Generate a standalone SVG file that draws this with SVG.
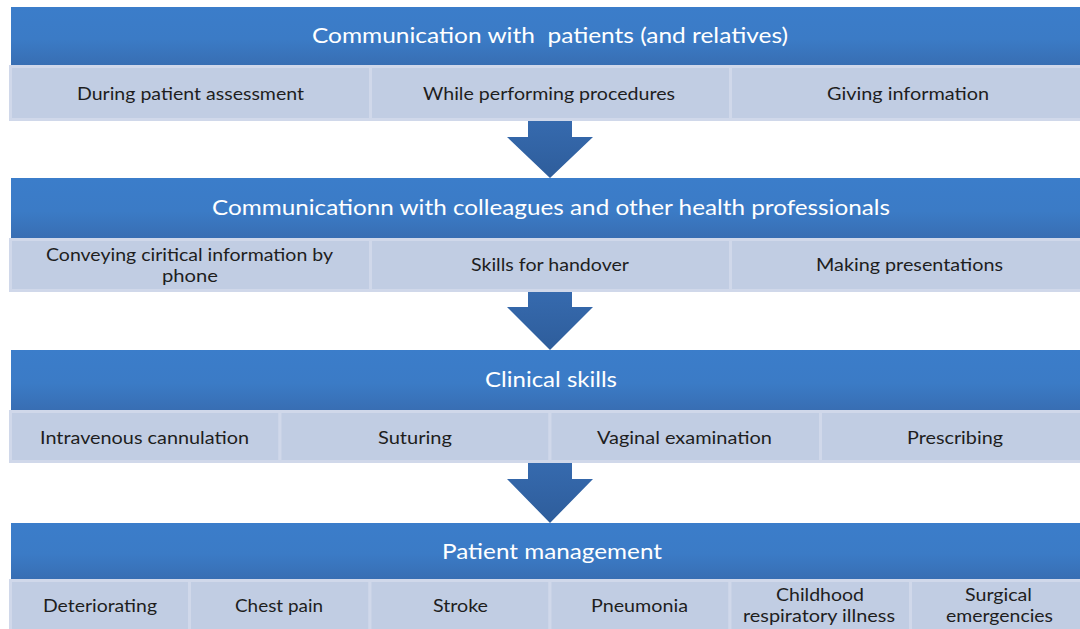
<svg xmlns="http://www.w3.org/2000/svg" width="1080" height="629" viewBox="0 0 1080 629">
  <defs>
    <linearGradient id="hdrGrad" x1="0" y1="0" x2="0" y2="1">
      <stop offset="0" stop-color="#3B7DCA"/>
      <stop offset="0.55" stop-color="#3B7BC6"/>
      <stop offset="1" stop-color="#386EB3"/>
    </linearGradient>
    <linearGradient id="arrGrad" x1="0" y1="0" x2="0" y2="1">
      <stop offset="0" stop-color="#366AAE"/>
      <stop offset="1" stop-color="#2E5D9B"/>
    </linearGradient>
    <style>
      .hdr { fill: url(#hdrGrad); }
      .cell { fill: #C1CDE3; stroke: #D0D8EA; stroke-width: 3; }
      .htxt { font-family: "Lato", "Liberation Sans", sans-serif; font-size: 22px; fill: #FFFFFF; text-anchor: middle; }
      .ctxt { font-family: "Lato", "Liberation Sans", sans-serif; font-size: 18px; fill: #1E1E1E; text-anchor: middle; }
      .arrow { fill: url(#arrGrad); }
    </style>
  </defs>

  <rect width="1080" height="629" fill="#FFFFFF"/>

  <!-- Stage 1 -->
  <g id="stage-patients">
    <rect class="hdr" x="11" y="7" width="1080" height="58"/>
    <text class="htxt" x="550" y="43" xml:space="preserve" textLength="476" lengthAdjust="spacingAndGlyphs">Communication with  patients (and relatives)</text>
    <rect class="cell" x="10.5" y="66.5" width="360" height="53"/>
    <rect class="cell" x="370.5" y="66.5" width="360" height="53"/>
    <rect class="cell" x="730.5" y="66.5" width="360" height="53"/>
    <text class="ctxt" x="190.5" y="100" textLength="227" lengthAdjust="spacingAndGlyphs">During patient assessment</text>
    <text class="ctxt" x="549" y="100" textLength="252" lengthAdjust="spacingAndGlyphs">While performing procedures</text>
    <text class="ctxt" x="908" y="100" textLength="162" lengthAdjust="spacingAndGlyphs">Giving information</text>
  </g>

  <!-- Stage 2 -->
  <g id="stage-colleagues">
    <rect class="hdr" x="11" y="178" width="1080" height="60"/>
    <text class="htxt" x="551" y="215" textLength="678" lengthAdjust="spacingAndGlyphs">Communicationn with colleagues and other health professionals</text>
    <rect class="cell" x="10.5" y="239.5" width="360" height="51"/>
    <rect class="cell" x="370.5" y="239.5" width="360" height="51"/>
    <rect class="cell" x="730.5" y="239.5" width="360" height="51"/>
    <text class="ctxt" x="189.5" y="261" textLength="287" lengthAdjust="spacingAndGlyphs">Conveying ciritical information by</text>
    <text class="ctxt" x="190" y="282" textLength="56" lengthAdjust="spacingAndGlyphs">phone</text>
    <text class="ctxt" x="550" y="271" textLength="158" lengthAdjust="spacingAndGlyphs">Skills for handover</text>
    <text class="ctxt" x="909.5" y="271" textLength="187" lengthAdjust="spacingAndGlyphs">Making presentations</text>
  </g>

  <!-- Stage 3 -->
  <g id="stage-clinical">
    <rect class="hdr" x="11" y="350" width="1080" height="60"/>
    <text class="htxt" x="551" y="387" textLength="132" lengthAdjust="spacingAndGlyphs">Clinical skills</text>
    <rect class="cell" x="10.5" y="411.5" width="269.5" height="50"/>
    <rect class="cell" x="280" y="411.5" width="270" height="50"/>
    <rect class="cell" x="550" y="411.5" width="270.5" height="50"/>
    <rect class="cell" x="820.5" y="411.5" width="270.5" height="50"/>
    <text class="ctxt" x="144.5" y="444" textLength="209" lengthAdjust="spacingAndGlyphs">Intravenous cannulation</text>
    <text class="ctxt" x="415" y="444" textLength="74" lengthAdjust="spacingAndGlyphs">Suturing</text>
    <text class="ctxt" x="684.5" y="444" textLength="175" lengthAdjust="spacingAndGlyphs">Vaginal examination</text>
    <text class="ctxt" x="955" y="444" textLength="96" lengthAdjust="spacingAndGlyphs">Prescribing</text>
  </g>

  <!-- Stage 4 -->
  <g id="stage-management">
    <rect class="hdr" x="11" y="523" width="1080" height="56"/>
    <text class="htxt" x="552" y="559" textLength="220" lengthAdjust="spacingAndGlyphs">Patient management</text>
    <rect class="cell" x="10.5" y="580.5" width="179" height="52"/>
    <rect class="cell" x="189.5" y="580.5" width="180.5" height="52"/>
    <rect class="cell" x="370" y="580.5" width="180" height="52"/>
    <rect class="cell" x="550" y="580.5" width="180" height="52"/>
    <rect class="cell" x="730" y="580.5" width="180.5" height="52"/>
    <rect class="cell" x="910.5" y="580.5" width="180.5" height="52"/>
    <text class="ctxt" x="100" y="612" textLength="114" lengthAdjust="spacingAndGlyphs">Deteriorating</text>
    <text class="ctxt" x="279" y="612" textLength="88" lengthAdjust="spacingAndGlyphs">Chest pain</text>
    <text class="ctxt" x="460.5" y="612" textLength="55" lengthAdjust="spacingAndGlyphs">Stroke</text>
    <text class="ctxt" x="639.5" y="612" textLength="97" lengthAdjust="spacingAndGlyphs">Pneumonia</text>
    <text class="ctxt" x="820" y="601" textLength="88" lengthAdjust="spacingAndGlyphs">Childhood</text>
    <text class="ctxt" x="819" y="622" textLength="152" lengthAdjust="spacingAndGlyphs">respiratory illness</text>
    <text class="ctxt" x="998.5" y="601" textLength="67" lengthAdjust="spacingAndGlyphs">Surgical</text>
    <text class="ctxt" x="999.5" y="622" textLength="107" lengthAdjust="spacingAndGlyphs">emergencies</text>
  </g>

  <!-- Block arrows between stages -->
  <g id="connectors">
    <polygon class="arrow" points="528,121 572,121 572,137 593,137 550,178 507,137 528,137"/>
    <polygon class="arrow" points="528,292 572,292 572,307 593,307 550,350 507,307 528,307"/>
    <polygon class="arrow" points="528,463 572,463 572,479 593,479 550,523 507,479 528,479"/>
  </g>
</svg>
